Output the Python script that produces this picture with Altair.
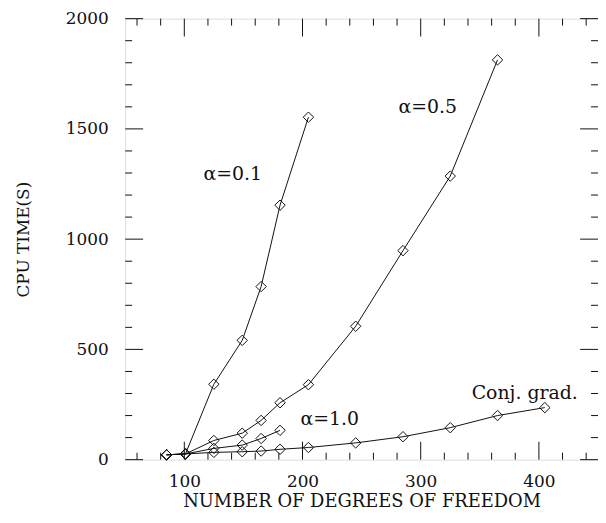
import altair as alt
import pandas as pd

# ---- data ----
x_a01 = [85, 101, 125, 149, 165, 181, 205]
y_a01 = [22, 26, 342, 541, 785, 1154, 1553]
x_a05 = [85, 101, 125, 149, 165, 181, 205, 245, 285, 325, 365]
y_a05 = [22, 26, 87, 120, 178, 258, 340, 605, 948, 1286, 1813]
x_a10 = [85, 101, 125, 149, 165, 181]
y_a10 = [22, 26, 51, 66, 96, 133]
x_cg = [85, 101, 125, 149, 165, 181, 205, 245, 285, 325, 365, 405]
y_cg = [22, 26, 33, 36, 39, 47, 55, 76, 104, 145, 200, 236]

label_text = ["α=0.1", "α=0.5", "α=1.0", "Conj. grad."]
label_x = [141, 306, 223, 388]
label_y = [1296, 1601, 184, 300]

x_major = [100, 200, 300, 400]
x_minor = [v for v in range(60, 450, 20) if v % 100 != 0]
y_major = [0, 500, 1000, 1500, 2000]
y_minor = [v for v in range(100, 2000, 100) if v % 500 != 0]

W, H = 476, 444
FONT = "DejaVu Serif"
INK = "#111111"

rows = []
for name, xs, ys in [("a01", x_a01, y_a01), ("a05", x_a05, y_a05),
                     ("a10", x_a10, y_a10), ("cg", x_cg, y_cg)]:
    for i, (xv, yv) in enumerate(zip(xs, ys)):
        rows.append({"series": name, "x": xv, "y": yv, "i": i})
df = pd.DataFrame(rows)
labels = pd.DataFrame({"text": label_text, "x": label_x, "y": label_y})

xs = alt.Scale(domain=[50, 450], nice=False, zero=False)
ys = alt.Scale(domain=[0, 2000], nice=False)

X = alt.X("x:Q", scale=xs, axis=alt.Axis(
    values=x_major, title="NUMBER OF DEGREES OF FREEDOM", ticks=False, domain=False,
    grid=False, labelPadding=14, titlePadding=3, labelFont=FONT, titleFont=FONT,
    labelFontSize=17, titleFontSize=18, titleFontWeight="normal",
    labelColor=INK, titleColor=INK))
Y = alt.Y("y:Q", scale=ys, axis=alt.Axis(
    values=y_major, title="CPU TIME(S)", ticks=False, domain=False, grid=False,
    labelPadding=17, titlePadding=33, labelFont=FONT, titleFont=FONT,
    labelFontSize=17, titleFontSize=17, titleFontWeight="normal",
    labelColor=INK, titleColor=INK, format="d"))

lines = alt.Chart(df).mark_line(color=INK, strokeWidth=1).encode(
    x=X, y=Y, detail="series:N", order="i:Q")
points = alt.Chart(df).mark_point(shape="diamond", filled=False, color=INK,
                                  size=110, strokeWidth=1, opacity=1).encode(
    x=alt.X("x:Q", scale=xs), y=alt.Y("y:Q", scale=ys))
texts = alt.Chart(labels).mark_text(font=FONT, fontSize=19, color=INK,
                                    align="center", baseline="middle").encode(
    x=alt.X("x:Q", scale=xs), y=alt.Y("y:Q", scale=ys), text="text:N")

def xticks(vals, length):
    d = pd.DataFrame({"x": vals})
    bottom = alt.Chart(d).mark_rule(color=INK, strokeWidth=1).encode(
        x=alt.X("x:Q", scale=xs), y=alt.value(H), y2=alt.value(H - length))
    top = alt.Chart(d).mark_rule(color=INK, strokeWidth=1).encode(
        x=alt.X("x:Q", scale=xs), y=alt.value(0), y2=alt.value(length))
    return [bottom, top]

def yticks(vals, length):
    d = pd.DataFrame({"y": vals})
    left = alt.Chart(d).mark_rule(color=INK, strokeWidth=1).encode(
        y=alt.Y("y:Q", scale=ys), x=alt.value(0), x2=alt.value(length))
    right = alt.Chart(d).mark_rule(color=INK, strokeWidth=1).encode(
        y=alt.Y("y:Q", scale=ys), x=alt.value(W), x2=alt.value(W - length))
    return [left, right]

layers = [lines, points, texts] + xticks(x_major, 18) + xticks(x_minor, 7) \
    + yticks(y_major, 18) + yticks(y_minor, 7)

chart = alt.layer(*layers).properties(
    width=W, height=H,
    autosize=alt.AutoSizeParams(type="none"),
    padding={"left": 118, "top": 9, "right": 0, "bottom": 54},
).configure_view(stroke=INK, strokeWidth=1.2).configure(background="white")

chart.save("out.html", embed_options={"renderer": "svg", "actions": False})
